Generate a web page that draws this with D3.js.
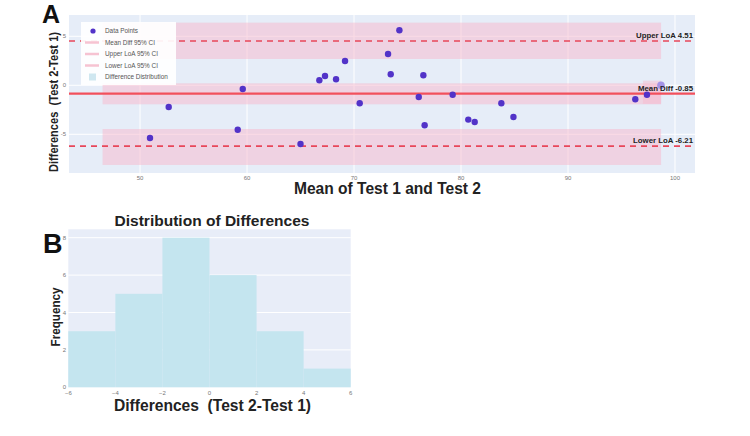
<!DOCTYPE html>
<html><head><meta charset="utf-8">
<script src="https://cdn.jsdelivr.net/npm/d3@7"></script>
<style>body{margin:0;background:#fff}svg{display:block}text{font-family:"Liberation Sans",Arial,sans-serif;white-space:pre}</style>
</head><body><svg id="c" width="750" height="436"></svg>
<script>
// ---- Panel A data (Bland-Altman) ----
const meanVals = [50.93,52.68,59.13,59.6,65.0,66.76,67.29,68.32,69.16,70.53,74.24,73.18,73.43,76.48,76.05,76.6,79.22,83.77,80.68,81.28,84.9,96.29,97.38];
const diffVals = [-5.38,-2.21,-4.53,-0.38,-5.99,0.52,0.95,0.61,2.48,-1.84,5.61,3.19,1.12,1.02,-1.19,-4.08,-0.96,-1.84,-3.5,-3.74,-3.24,-1.43,-0.96];
const extraPoint = [98.69, 0.0];
const meanDiff = -0.85, upperLoA = 4.51, lowerLoA = -6.21;
const bandX = [46.5, 98.7];
const bands = [[2.68, 6.39], [-1.94, 0.2], [-8.13, -4.46]];
const smallBand = {x:[97.0, 98.7], y:[-1.9, 0.47]};
const xTicksA = [50,60,70,80,90,100];
const yTicksA = [-5,0,5];
const legendItems = ["Data Points","Mean Diff 95% CI","Upper LoA 95% CI","Lower LoA 95% CI","Difference Distribution"];
// ---- Panel B data (histogram) ----
const binEdges = [-6,-4,-2,0,2,4,6];
const binCounts = [3,5,8,6,3,1];
const xTicksB = [-6,-4,-2,0,2,4,6];
const yTicksB = [0,2,4,6,8];

const svg = d3.select("#c");

// ===== Panel A =====
const A = {l:69, r:695, t:15, b:173};
const xA = d3.scaleLinear().domain([43.36,101.87]).range([A.l,A.r]);
const yA = d3.scaleLinear().domain([-8.95,7.17]).range([A.b,A.t]);
const gA = svg.append("g");
gA.append("rect").attr("x",A.l).attr("y",A.t).attr("width",A.r-A.l).attr("height",A.b-A.t).attr("fill","#e6edf8");
gA.selectAll(".gx").data(xTicksA).join("line").attr("x1",d=>xA(d)).attr("x2",d=>xA(d)).attr("y1",A.t).attr("y2",A.b).attr("stroke","#fff").attr("stroke-width",1);
gA.selectAll(".gy").data(yTicksA).join("line").attr("y1",d=>yA(d)).attr("y2",d=>yA(d)).attr("x1",A.l).attr("x2",A.r).attr("stroke","#fff").attr("stroke-width",1);
gA.selectAll(".band").data(bands).join("rect")
  .attr("x",xA(bandX[0])).attr("width",xA(bandX[1])-xA(bandX[0]))
  .attr("y",d=>yA(d[1])).attr("height",d=>yA(d[0])-yA(d[1]))
  .attr("fill","#f7b8cc").attr("opacity",0.5);
gA.append("rect").attr("x",xA(smallBand.x[0])).attr("width",xA(smallBand.x[1])-xA(smallBand.x[0]))
  .attr("y",yA(smallBand.y[1])).attr("height",yA(smallBand.y[0])-yA(smallBand.y[1]))
  .attr("fill","#f7b8cc").attr("opacity",0.45);
gA.append("line").attr("x1",A.l).attr("x2",A.r).attr("y1",yA(meanDiff)).attr("y2",yA(meanDiff)).attr("stroke","#f2505c").attr("stroke-width",2.4);
[upperLoA, lowerLoA].forEach(v=>{
  gA.append("line").attr("x1",A.l).attr("x2",A.r).attr("y1",yA(v)).attr("y2",yA(v)).attr("stroke","#e8475a").attr("stroke-width",1.6).attr("stroke-dasharray","6,5");
});
gA.selectAll(".pt").data(meanVals.map((m,i)=>[m,diffVals[i]])).join("circle")
  .attr("cx",d=>xA(d[0])).attr("cy",d=>yA(d[1])).attr("r",3.2).attr("fill","#5233c8");
gA.append("circle").attr("cx",xA(extraPoint[0])).attr("cy",yA(extraPoint[1])).attr("r",3.8).attr("fill","#a393e6");
const ann = [[upperLoA,"Upper LoA 4.51"],[meanDiff,"Mean Diff -0.85"],[lowerLoA,"Lower LoA -6.21"]];
gA.selectAll(".ann").data(ann).join("text").attr("x",693).attr("y",d=>yA(d[0])-3).attr("text-anchor","end")
  .attr("font-size",7.8).attr("font-weight","bold").attr("fill","#222").text(d=>d[1]);
gA.selectAll(".tx").data(xTicksA).join("text").attr("x",d=>xA(d)).attr("y",180).attr("text-anchor","middle").attr("font-size",6).attr("fill","#777").text(d=>d);
gA.selectAll(".ty").data(yTicksA).join("text").attr("x",66).attr("y",d=>yA(d)+2).attr("text-anchor","end").attr("font-size",6).attr("fill","#777").text(d=>d);
const lg = gA.append("g");
lg.append("rect").attr("x",81).attr("y",22).attr("width",95).attr("height",63).attr("fill","#fff").attr("opacity",0.92);
legendItems.forEach((t,i)=>{
  const y = 31 + i*11.5;
  if(i===0) lg.append("circle").attr("cx",93).attr("cy",y).attr("r",2.6).attr("fill","#5233c8");
  else if(i<4) lg.append("line").attr("x1",85).attr("x2",99).attr("y1",y).attr("y2",y).attr("stroke","#f6c3d2").attr("stroke-width",2.5);
  else lg.append("rect").attr("x",89).attr("y",y-3.5).attr("width",7).attr("height",7).attr("fill","#cfe7f0");
  lg.append("text").attr("x",105).attr("y",y+2.2).attr("font-size",6.4).attr("fill","#555").text(t);
});
svg.append("text").attr("x",387.5).attr("y",194).attr("text-anchor","middle").attr("font-size",16).attr("font-weight","bold").attr("fill","#222")
  .attr("textLength",187).attr("lengthAdjust","spacingAndGlyphs").text("Mean of Test 1 and Test 2");
svg.append("text").attr("transform","translate(58,102) rotate(-90)").attr("text-anchor","middle").attr("font-size",12.5).attr("font-weight","bold").attr("fill","#222")
  .attr("textLength",140).attr("lengthAdjust","spacingAndGlyphs").text("Differences  (Test 2-Test 1)");
svg.append("text").attr("x",42).attr("y",23).attr("font-size",25).attr("font-weight","bold").attr("fill","#111").text("A");

// ===== Panel B =====
const B = {l:68.3, r:350.7, t:229.3, b:387.3};
const xB = d3.scaleLinear().domain([-6,6]).range([B.l,B.r]);
const yB = d3.scaleLinear().domain([0,8.45]).range([B.b,B.t]);
const gB = svg.append("g");
gB.append("rect").attr("x",B.l).attr("y",B.t).attr("width",B.r-B.l).attr("height",B.b-B.t).attr("fill","#e8edf8");
gB.selectAll(".gy").data(yTicksB).join("line").attr("y1",d=>yB(d)).attr("y2",d=>yB(d)).attr("x1",B.l).attr("x2",B.r).attr("stroke","#fff").attr("stroke-width",1);
gB.selectAll(".bar").data(binCounts).join("rect")
  .attr("x",(d,i)=>xB(binEdges[i])).attr("width",(d,i)=>xB(binEdges[i+1])-xB(binEdges[i]))
  .attr("y",d=>yB(d)).attr("height",d=>yB(0)-yB(d)).attr("fill","#c4e5ef");
gB.selectAll(".tx").data(xTicksB).join("text").attr("x",d=>xB(d)).attr("y",395).attr("text-anchor","middle").attr("font-size",6).attr("fill","#777").text(d=>d<0?"\u2212"+Math.abs(d):d);
gB.selectAll(".ty").data(yTicksB).join("text").attr("x",66).attr("y",d=>yB(d)+2).attr("text-anchor","end").attr("font-size",6).attr("fill","#777").text(d=>d);
svg.append("text").attr("x",212).attr("y",226).attr("text-anchor","middle").attr("font-size",15.5).attr("font-weight","bold").attr("fill","#222")
  .attr("textLength",195).attr("lengthAdjust","spacingAndGlyphs").text("Distribution of Differences");
svg.append("text").attr("x",212.5).attr("y",411).attr("text-anchor","middle").attr("font-size",16).attr("font-weight","bold").attr("fill","#222")
  .attr("textLength",197).attr("lengthAdjust","spacingAndGlyphs").text("Differences  (Test 2-Test 1)");
svg.append("text").attr("transform","translate(60,317) rotate(-90)").attr("text-anchor","middle").attr("font-size",12).attr("font-weight","bold").attr("fill","#222")
  .attr("textLength",59).attr("lengthAdjust","spacingAndGlyphs").text("Frequency");
svg.append("text").attr("x",43).attr("y",253).attr("font-size",27).attr("font-weight","bold").attr("fill","#111").text("B");
</script></body></html>
